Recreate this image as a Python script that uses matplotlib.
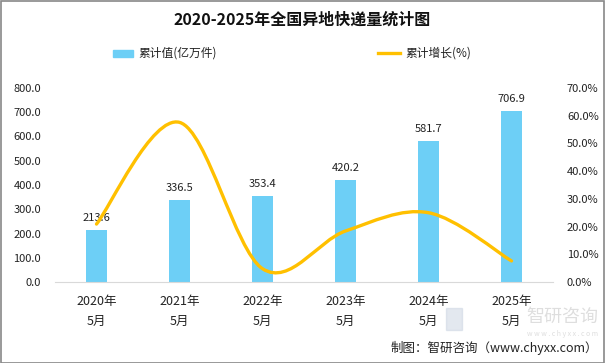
import matplotlib
matplotlib.use("Agg")
import matplotlib.pyplot as plt
from matplotlib.path import Path
from matplotlib.patches import PathPatch, Rectangle
from matplotlib.lines import Line2D
import numpy as np

plt.rcParams['font.family'] = ['Noto Sans CJK SC', 'DejaVu Sans']

years = ["2020年\n5月", "2021年\n5月", "2022年\n5月", "2023年\n5月", "2024年\n5月", "2025年\n5月"]
values = [213.6, 336.5, 353.4, 420.2, 581.7, 706.9]
growth = [20.9, 57.6, 4.8, 18.4, 25.0, 7.6]
left_ticks = [0, 100, 200, 300, 400, 500, 600, 700, 800]
right_ticks = [0, 10, 20, 30, 40, 50, 60, 70]

bar_color = '#6DCFF6'
line_color = '#FFC000'
W, H = 605, 363
fig = plt.figure(figsize=(W / 100, H / 100), dpi=100)
ax = fig.add_axes([55 / W, 1 - 282 / H, (553 - 55) / W, (282 - 88) / H])
ax2 = ax.twinx()

x = np.arange(len(values))
ax.bar(x, values, width=0.25, color=bar_color, zorder=2)
for xi, v in zip(x, values):
    ax.annotate(f"{v:.1f}", (xi, v), xytext=(0, 5), textcoords='offset points',
                ha='center', va='bottom', fontsize=8, color='#222222', zorder=5)

ax.set_xlim(-0.5, len(values) - 0.5)
ax.set_ylim(0, 800)
ax.set_yticks(left_ticks)
ax.set_yticklabels([f"{t:.1f}" for t in left_ticks], fontsize=8, color='#222222')
ax.set_xticks(x)
ax.set_xticklabels(years, fontsize=9, color='#222222', linespacing=1.75)
ax.tick_params(axis='y', length=0, pad=10)
ax.tick_params(axis='x', length=0, pad=9)
for s in ['top', 'right', 'left']:
    ax.spines[s].set_visible(False)
ax.spines['bottom'].set_color('#D9D9D9')

ax2.set_ylim(0, 70)
ax2.set_yticks(right_ticks)
ax2.set_yticklabels([f"{t:.1f}%" for t in right_ticks], fontsize=8, color='#222222')
ax2.tick_params(axis='y', length=0, pad=10)
for s in ax2.spines.values():
    s.set_visible(False)

# smooth (Catmull-Rom style Bezier) line through growth points
pts = np.column_stack([x, growth]).astype(float)
verts = [tuple(pts[0])]
codes = [Path.MOVETO]
n = len(pts)
t = 1 / 6
for i in range(n - 1):
    p0 = pts[i - 1] if i > 0 else pts[i]
    p1 = pts[i]
    p2 = pts[i + 1]
    p3 = pts[i + 2] if i + 2 < n else pts[i + 1]
    c1 = p1 + (p2 - p0) * t
    c2 = p2 - (p3 - p1) * t
    verts += [tuple(c1), tuple(c2), tuple(p2)]
    codes += [Path.CURVE4, Path.CURVE4, Path.CURVE4]
ax2.add_patch(PathPatch(Path(verts, codes), facecolor='none', edgecolor=line_color,
                        lw=2.4, zorder=4, capstyle='round'))

# title
fig.text(0.5, 1 - 20 / H, "2020-2025年全国异地快递量统计图", ha='center', va='center',
         fontsize=11.5, fontweight='bold', color='#111111')

# legend
fig.patches.append(Rectangle((113 / W, 1 - 57 / H), 20 / W, 7 / H, transform=fig.transFigure,
                             color=bar_color))
fig.text(138 / W, 1 - 53 / H, "累计值(亿万件)", ha='left', va='center', fontsize=8.5, color='#222222')
fig.lines.append(Line2D([378 / W, 400 / W], [1 - 53 / H, 1 - 53 / H], transform=fig.transFigure,
                        color=line_color, lw=2.4))
fig.text(405 / W, 1 - 53 / H, "累计增长(%)", ha='left', va='center', fontsize=8.5, color='#222222')

# watermark (kept clear of the axis labels)
fig.patches.append(Rectangle((446 / W, 1 - 330 / H), 16 / W, 22 / H, transform=fig.transFigure,
                             color='#C8D3E0', alpha=0.5, zorder=0))
fig.text(598 / W, 1 - 317 / H, "智研咨询", ha='right', va='center', fontsize=13,
         color='#C8C8C8', alpha=0.6, zorder=0)
fig.text(598 / W, 1 - 334 / H, "w w w . c h y x x . c o m", ha='right', va='center', fontsize=5,
         color='#C8C8C8', alpha=0.6, zorder=0)

# source
fig.text(598 / W, 1 - 348 / H, "制图：智研咨询（www.chyxx.com）", ha='right', va='center',
         fontsize=9, color='#222222')

# border
fig.patches.append(Rectangle((0.5 / W, 0.5 / H), 1 - 1.5 / W, 1 - 1.5 / H, transform=fig.transFigure,
                             fill=False, edgecolor='#888888', lw=1.2))

fig.savefig("out.png", dpi=100)
